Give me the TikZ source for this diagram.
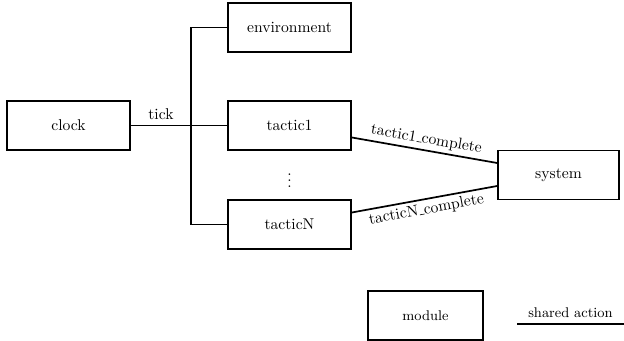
\documentclass[tikz,border=0pt]{standalone}
\usetikzlibrary{calc}
\newcommand\myusc{\leavevmode\kern.06em\vbox{\hrule width.3em}}
\begin{document}
\begin{tikzpicture}[x=0.64pt,y=-0.64pt,
  mod/.style={draw,line width=1.1pt,minimum width=123*0.64pt,minimum height=49*0.64pt,inner sep=0pt},
  smallmod/.style={mod,minimum width=115*0.64pt,font=\small},
  conn/.style={line width=1.1pt}]
\useasboundingbox (0,0) rectangle (624,341);
\node[mod] (clock) at (68.5,125.5) {clock};
\node[mod] (env) at (289.5,27.5) {environment};
\node[mod] (t1) at (289.5,125.5) {tactic1};
\node[mod] (tN) at (289.5,224.5) {tacticN};
\node[mod,minimum width=121*0.64pt] (sys) at (558.5,175) {system};
\node (dots) at (289.5,176) {$\vdots$};
\coordinate (bus) at (191,125.5);
\draw[conn] (clock.east) -- node[above,pos=0.5]{tick} (bus) -- (t1.west);
\draw[conn] (env.west) -| (bus);
\draw[conn] (tN.west) -| (bus);
\draw[conn] ($(t1.east)+(0,12)$) -- node[above,sloped,pos=0.5,inner sep=2pt]{tactic1\myusc complete} ($(sys.west)+(0,-12)$);
\draw[conn] ($(tN.east)+(0,-12)$) -- node[below,sloped,pos=0.5,inner sep=2pt]{tacticN\myusc complete} ($(sys.west)+(0,11)$);
\node[smallmod] (legmod) at (425.5,315.5) {module};
\coordinate (la) at (517,324);
\coordinate (lb) at (624,324);
\draw[conn] (la) -- node[above,font=\small]{shared action} (lb);
\end{tikzpicture}
\end{document}
